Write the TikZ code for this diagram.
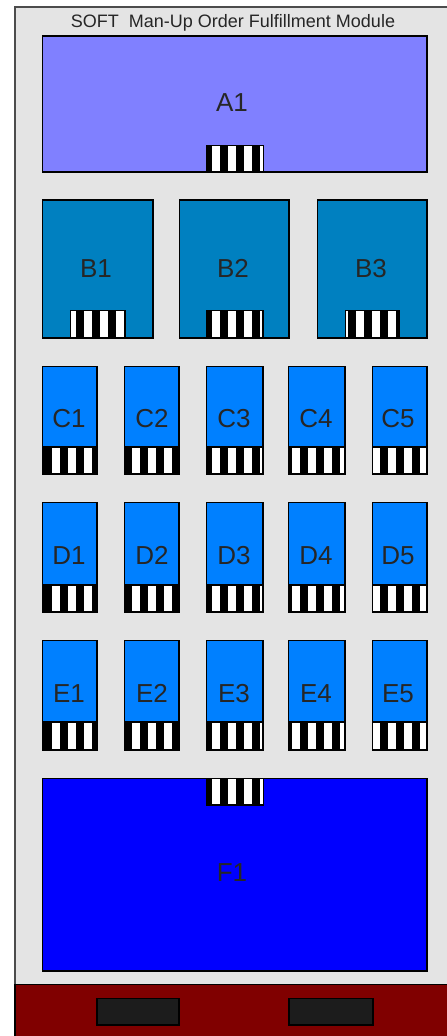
\documentclass[tikz,border=0pt]{standalone}
\usepackage{fontspec}
\setmainfont{Liberation Sans}
\definecolor{panel}{RGB}{228,228,228}
\definecolor{cola}{RGB}{128,128,255}
\definecolor{colb}{RGB}{0,128,192}
\definecolor{colc}{RGB}{0,128,255}
\definecolor{colf}{RGB}{0,0,255}
\definecolor{base}{RGB}{128,0,0}
\definecolor{slot}{RGB}{28,28,28}
\tikzset{
  x=1pt,y=-1pt,
  edge/.style={draw=black,line width=1.3pt},
  lbl/.style={inner sep=0pt,text height=18.5pt,text depth=0pt,font=\fontsize{26}{26}\selectfont,text=black!85},
  ttl/.style={inner sep=0pt,font=\fontsize{18}{18}\selectfont,text=black!85}
}
% strip: x0 y0 x1 y1; stripes keep one global phase (black on 12..20 mod 16)
\newcommand{\stripbar}[4]{%
  \fill[white] (#1,#2) rectangle (#3,#4);
  \begin{scope}
    \clip (#1,#2) rectangle (#3,#4);
    \foreach \sx in {12,28,...,428}{\fill[black] (\sx-0.5,#2) rectangle (\sx+8,#4);}
  \end{scope}
  \draw[edge] (#1,#2) rectangle (#3,#4);
}
% box: name colour x0 y0 x1 y1 labelx labely text
\newcommand{\modbox}[9]{%
  \draw[edge,fill=#2] (#3,#4) rectangle (#5,#6);
  \node[lbl] (#1) at (#7,#8) {#9};
}
\begin{document}
\begin{tikzpicture}
\useasboundingbox (0,0) rectangle (447,1036);
\fill[white] (0,0) rectangle (447,1036);
\draw[draw=black!70,line width=1.5pt,fill=panel] (15,7) rectangle (449,1040);
\node[ttl] (title) at (233,23) {SOFT\ \ Man-Up Order Fulfillment Module};

\modbox{a1}{cola}{42.7}{36}{427}{172}{232}{102}{A1}
\stripbar{206.7}{145.5}{263.7}{172}

\modbox{b1}{colb}{42.7}{200}{153}{338}{96}{268}{B1}
\stripbar{70.7}{310.5}{125}{338}
\modbox{b2}{colb}{179.7}{200}{289}{338}{233}{268}{B2}
\stripbar{206.7}{310.5}{263}{338}
\modbox{b3}{colb}{317.7}{200}{427}{338}{371}{268}{B3}
\stripbar{345.7}{310.5}{399}{338}

\foreach \rowname/\rowtop/\rowstrip/\rowbot/\rowlab in {C/366.5/447/474/418,D/502.5/585/612/555,E/640.5/722/750/693}{
  \foreach \cn/\xa/\xb/\xl in {1/42.7/97/69,2/124.7/179/152,3/206.7/263/234,4/288.7/345/316,5/372.7/427/398}{
    \draw[edge,fill=colc] (\xa,\rowtop) rectangle (\xb,\rowbot);
    \node[lbl] (\rowname\cn) at (\xl,\rowlab) {\rowname\cn};
    \stripbar{\xa}{\rowstrip}{\xb}{\rowbot}
    \ifnum\cn=1 \fill[black] (\xa,\rowstrip) rectangle (\xa+3,\rowbot);\fi
  }
}

\modbox{f1}{colf}{42.7}{778.5}{427}{971}{232}{872}{F1}
\stripbar{206.7}{778.5}{263.7}{805}

\draw[edge,fill=base] (15,984.5) rectangle (449,1040);
\draw[edge,fill=slot] (97,998.5) rectangle (179,1025);
\draw[edge,fill=slot] (289,998.5) rectangle (373,1025);
\end{tikzpicture}
\end{document}
